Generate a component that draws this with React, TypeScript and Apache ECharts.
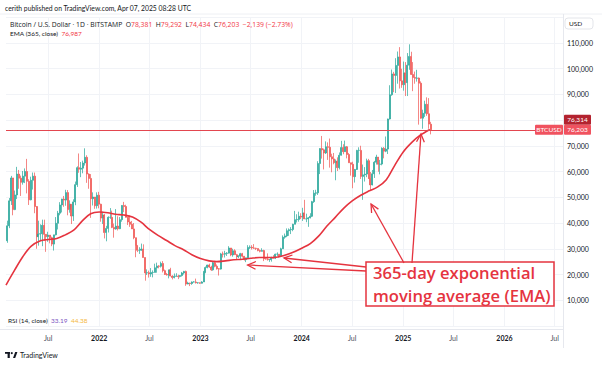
import React, { useEffect, useRef } from "react";
import * as echarts from "echarts";

// Weekly candles (week starting Monday), [open, close, low, high] in thousand USD
const FIRST_WEEK = "2021-02-01";
const ohlc2021: number[][] = [
  [33.1, 38.9, 32.3, 40.9], [38.9, 48.6, 38.0, 49.7], [48.6, 57.5, 47.0, 58.3], [57.5, 45.2, 43.0, 57.5],
  [45.2, 50.9, 45.0, 52.6], [50.9, 59.0, 49.3, 61.8], [59.0, 57.4, 53.3, 60.6], [57.4, 55.8, 50.5, 58.4],
  [55.8, 58.2, 54.9, 60.2], [58.2, 60.0, 55.5, 61.2], [60.0, 56.2, 51.5, 64.9], [56.2, 49.0, 47.0, 57.0],
  [49.0, 56.6, 48.8, 58.0], [56.6, 58.2, 53.0, 59.6], [58.2, 46.4, 43.8, 59.6], [46.4, 34.7, 30.0, 46.6],
  [34.7, 35.7, 31.2, 40.9], [35.7, 35.8, 33.4, 39.5], [35.8, 39.1, 31.0, 41.3], [39.1, 35.6, 33.0, 41.3],
  [35.6, 34.7, 28.8, 35.7], [34.7, 35.3, 32.7, 36.6], [35.3, 34.3, 32.1, 35.3], [34.3, 31.8, 31.0, 34.7],
  [31.8, 35.4, 29.3, 35.4], [35.4, 39.9, 35.2, 42.3], [39.9, 43.8, 37.5, 44.7], [43.8, 47.0, 43.0, 48.1],
  [47.0, 49.3, 44.1, 49.4], [49.3, 48.9, 46.3, 50.5], [48.9, 51.8, 46.7, 52.9], [51.8, 45.2, 43.0, 52.8],
  [45.2, 47.3, 44.0, 48.8], [47.3, 42.7, 39.6, 47.3], [42.7, 48.2, 40.8, 49.2], [48.2, 54.9, 46.9, 56.1],
  [54.9, 61.5, 54.0, 62.0], [61.5, 60.9, 59.5, 67.0], [60.9, 61.3, 57.8, 63.7], [61.3, 63.3, 59.3, 64.2],
  [63.3, 65.5, 62.3, 69.0], [65.5, 59.0, 55.6, 66.3], [59.0, 57.3, 53.3, 59.3], [57.3, 49.4, 42.0, 59.0],
  [49.4, 50.1, 46.8, 51.9], [50.1, 46.7, 45.5, 50.1], [46.7, 50.8, 45.6, 51.9], [50.8, 47.3, 45.7, 52.1],
];
const ohlc2022: number[][] = [
  [47.3, 41.9, 40.5, 47.5], [41.9, 43.1, 39.6, 44.4], [43.1, 36.3, 34.0, 43.5], [36.3, 37.9, 32.9, 38.9],
  [37.9, 42.2, 36.3, 42.6], [42.2, 42.2, 41.6, 45.8], [42.2, 38.3, 38.0, 44.8], [38.3, 37.7, 34.3, 39.8],
  [37.7, 38.8, 37.4, 45.4], [38.8, 37.8, 37.1, 42.6], [37.8, 41.3, 37.6, 42.3], [41.3, 46.8, 40.5, 46.9],
  [46.8, 46.4, 44.2, 48.2], [46.4, 42.2, 42.1, 47.1], [42.2, 40.4, 39.2, 42.4], [40.4, 39.5, 38.5, 42.9],
  [39.5, 37.7, 37.7, 40.8], [37.7, 34.3, 33.7, 40.0], [34.3, 31.3, 26.7, 34.3], [31.3, 29.4, 28.7, 31.3],
  [29.4, 29.4, 28.0, 30.6], [29.4, 29.9, 29.2, 32.0], [29.9, 26.6, 26.6, 31.7], [26.6, 20.6, 17.6, 26.6],
  [20.6, 20.7, 19.8, 22.0], [20.7, 20.2, 18.8, 21.5], [20.2, 20.8, 19.1, 22.5], [20.8, 20.8, 18.9, 21.6],
  [20.8, 22.6, 20.8, 24.2], [22.6, 23.3, 20.7, 24.6], [23.3, 23.2, 22.4, 23.6], [23.2, 24.3, 22.7, 25.0],
  [24.3, 21.5, 20.8, 25.2], [21.5, 20.0, 19.8, 21.9], [20.0, 19.8, 19.6, 20.6], [19.8, 21.8, 18.5, 21.8],
  [21.8, 19.4, 19.3, 22.6], [19.4, 18.8, 18.1, 19.7], [18.8, 19.3, 18.5, 20.4], [19.3, 19.4, 19.2, 20.5],
  [19.4, 19.2, 18.2, 19.9], [19.2, 19.6, 18.9, 19.7], [19.6, 20.6, 19.2, 21.0], [20.6, 21.2, 20.0, 21.4],
  [21.2, 16.3, 15.6, 21.5], [16.3, 16.7, 16.2, 17.2], [16.7, 16.5, 15.5, 16.8], [16.5, 17.1, 16.0, 17.3],
  [17.1, 17.1, 16.9, 17.4], [17.1, 16.8, 16.5, 18.4], [16.8, 16.8, 16.4, 17.0], [16.8, 16.6, 16.4, 16.9],
];
const ohlc2023: number[][] = [
  [16.6, 17.1, 16.5, 17.4], [17.1, 20.9, 17.1, 21.4], [20.9, 22.7, 20.5, 23.1], [22.7, 23.7, 22.4, 23.8],
  [23.7, 22.9, 22.6, 24.2], [22.9, 21.8, 21.4, 23.4], [21.8, 24.6, 21.5, 25.2], [24.6, 23.2, 22.8, 25.3],
  [23.2, 22.2, 21.9, 23.9], [22.2, 22.1, 19.6, 22.5], [22.1, 28.0, 21.9, 28.4], [28.0, 27.9, 26.6, 28.9],
  [27.9, 28.2, 26.6, 29.2], [28.2, 28.3, 27.2, 28.7], [28.3, 30.3, 28.2, 31.0], [30.3, 27.6, 27.1, 30.3],
  [27.6, 29.2, 26.9, 30.0], [29.2, 27.7, 27.7, 29.8], [27.7, 26.9, 25.8, 28.0], [26.9, 27.1, 26.4, 27.5],
  [27.1, 28.1, 25.9, 28.4], [28.1, 27.1, 26.6, 28.4], [27.1, 25.8, 25.4, 27.1], [25.8, 26.5, 24.8, 26.5],
  [26.5, 30.5, 26.3, 31.4], [30.5, 30.6, 29.9, 31.3], [30.6, 30.3, 29.7, 31.4], [30.3, 30.2, 30.0, 31.8],
  [30.2, 30.1, 29.5, 30.4], [30.1, 29.3, 29.0, 30.1], [29.3, 29.0, 28.6, 29.7], [29.0, 29.3, 28.9, 30.2],
  [29.3, 26.1, 25.2, 29.6], [26.1, 26.0, 25.8, 26.8], [26.0, 25.8, 25.4, 28.2], [25.8, 25.8, 24.9, 26.0],
  [25.8, 26.5, 25.0, 26.9], [26.5, 26.3, 26.2, 27.5], [26.3, 27.9, 26.0, 28.1], [27.9, 27.9, 27.2, 28.6],
  [27.9, 27.1, 26.6, 27.9], [27.1, 30.0, 26.9, 30.4], [30.0, 34.5, 29.9, 35.2], [34.5, 35.0, 33.9, 35.9],
  [35.0, 37.0, 34.5, 37.9], [37.0, 37.4, 35.0, 37.9], [37.4, 37.5, 35.7, 38.4], [37.5, 39.5, 36.8, 39.7],
  [39.5, 41.3, 39.5, 44.7], [41.3, 41.4, 40.2, 43.4], [41.4, 42.6, 40.5, 44.4], [42.6, 42.3, 41.5, 43.8],
];
const ohlc2024: number[][] = [
  [42.3, 43.9, 40.8, 45.9], [43.9, 41.6, 41.5, 49.0], [41.6, 41.6, 40.3, 43.6], [41.6, 42.0, 38.5, 42.3],
  [42.0, 42.6, 41.8, 43.8], [42.6, 48.3, 42.3, 48.6], [48.3, 51.6, 47.8, 52.8], [51.6, 51.7, 50.6, 52.9],
  [51.7, 63.1, 50.9, 64.0], [63.1, 68.9, 59.0, 69.0], [68.9, 68.4, 65.0, 73.8], [68.4, 67.2, 60.8, 68.9],
  [67.2, 69.6, 66.8, 71.7], [69.6, 69.4, 64.5, 71.3], [69.4, 65.7, 61.5, 72.8], [65.7, 64.9, 59.7, 66.9],
  [64.9, 63.4, 62.8, 67.2], [63.4, 64.0, 56.6, 64.7], [64.0, 61.5, 60.2, 65.5], [61.5, 66.3, 60.8, 67.4],
  [66.3, 69.3, 66.2, 71.9], [69.3, 67.7, 66.7, 70.6], [67.7, 69.6, 67.6, 72.0], [69.6, 66.6, 65.1, 69.9],
  [66.6, 63.4, 63.4, 67.2], [63.4, 62.8, 58.4, 63.4], [62.8, 58.0, 53.5, 63.8], [58.0, 60.8, 55.7, 61.0],
  [60.8, 68.2, 60.6, 68.4], [68.2, 68.2, 63.4, 69.4], [68.2, 58.1, 57.1, 70.0], [58.1, 58.7, 49.0, 62.7],
  [58.7, 59.0, 56.1, 61.7], [59.0, 64.2, 57.8, 65.0], [64.2, 57.3, 57.1, 64.9], [57.3, 54.8, 52.6, 59.8],
  [54.8, 59.1, 54.6, 60.6], [59.1, 63.6, 57.5, 64.1], [63.6, 65.6, 62.7, 66.5], [65.6, 62.8, 59.9, 65.6],
  [62.8, 62.9, 58.9, 64.5], [62.9, 69.0, 62.4, 69.4], [69.0, 67.9, 65.1, 69.5], [67.9, 68.7, 67.5, 73.6],
  [68.7, 80.4, 66.8, 80.5], [80.4, 89.8, 80.2, 93.5], [89.8, 97.9, 89.4, 99.6], [97.9, 97.3, 90.8, 98.7],
  [97.3, 101.2, 90.5, 104.0], [101.2, 104.5, 94.1, 106.6], [104.5, 95.2, 92.2, 108.3], [95.2, 93.7, 92.5, 99.9],
  [93.7, 98.3, 91.4, 102.7],
];
const ohlc2025: number[][] = [
  [98.3, 94.5, 89.3, 102.5], [94.5, 101.3, 89.3, 106.0], [101.3, 104.7, 99.5, 109.4], [104.7, 97.7, 97.5, 106.5],
  [97.7, 96.5, 91.2, 102.5], [96.5, 96.2, 94.1, 98.8], [96.2, 96.3, 94.9, 99.5], [96.3, 94.3, 78.2, 96.5],
  [94.3, 80.7, 80.5, 95.0], [80.7, 82.6, 76.6, 84.0], [82.6, 86.1, 81.2, 87.5], [86.1, 82.4, 81.6, 88.8],
  [82.4, 78.4, 76.6, 88.5], [78.381, 76.203, 74.434, 79.292],
];

// EMA (365), thousand USD
const emaDates = [
  "2021-01-30", "2021-03-01", "2021-04-01", "2021-05-01", "2021-06-01", "2021-07-01", "2021-08-01",
  "2021-09-01", "2021-10-01", "2021-11-01", "2021-12-01", "2022-01-01", "2022-02-01", "2022-03-01",
  "2022-04-01", "2022-05-01", "2022-06-01", "2022-07-01", "2022-08-01", "2022-09-01", "2022-10-01",
  "2022-11-01", "2022-12-01", "2023-01-01", "2023-02-01", "2023-03-01", "2023-04-01", "2023-05-01",
  "2023-06-01", "2023-07-01", "2023-08-01", "2023-09-01", "2023-10-01", "2023-11-01", "2023-12-01",
  "2024-01-01", "2024-02-01", "2024-03-01", "2024-04-01", "2024-05-01", "2024-06-01", "2024-07-01",
  "2024-08-01", "2024-09-01", "2024-10-01", "2024-11-01", "2024-12-01", "2025-01-01", "2025-02-01",
  "2025-03-01", "2025-04-07",
];
const emaValues = [
  15.9, 21.5, 27.0, 31.0, 33.0, 33.6, 34.0,
  35.4, 37.2, 40.8, 43.6, 44.3, 44.0, 43.4,
  43.1, 42.3, 40.3, 37.5, 35.2, 33.2, 31.2,
  29.6, 27.7, 26.2, 25.3, 25.0, 25.3, 25.7,
  25.9, 26.3, 26.6, 26.6, 26.7, 27.5, 28.6,
  30.2, 32.0, 34.8, 38.8, 42.2, 45.8, 48.6,
  50.8, 52.5, 54.0, 56.8, 62.3, 67.6, 71.3,
  73.9, 76.3,
];

const priceTicks = [10000, 20000, 30000, 40000, 50000, 60000, 70000, 80000, 90000, 100000, 110000];
const timeTicks = [
  "2021-07-01", "2022-01-01", "2022-07-01", "2023-01-01", "2023-07-01", "2024-01-01",
  "2024-07-01", "2025-01-01", "2025-07-01", "2026-01-01", "2026-07-01",
];
const X_START = "2021-01-30";
const X_END = "2026-07-31";
const lastClose = 76203;
const emaTagValue = 76314;
const arrowTargets: [string, number][] = [
  ["2023-06-20", 23700],
  ["2023-10-29", 26400],
  ["2024-09-07", 47400],
  ["2025-03-06", 74600],
];

const DAY = 86400000;
const ts = (s: string) => Date.parse(s + "T00:00:00Z");
const fmt = (v: number) => String(Math.round(v)).replace(/\B(?=(\d{3})+(?!\d))/g, ",");
const FONT = 'Lato, "Open Sans", sans-serif';
const OPEN = '"Open Sans", sans-serif';
const RED = "#e5343f";

export default function App() {
  const ref = useRef<HTMLDivElement>(null);

  useEffect(() => {
    if (!ref.current) return;
    const chart = echarts.init(ref.current, undefined, { renderer: "svg" });

    const weeks = [...ohlc2021, ...ohlc2022, ...ohlc2023, ...ohlc2024, ...ohlc2025];
    const t0 = ts(FIRST_WEEK);
    const candleData = weeks.map((r, i) => [
      t0 + (i * 7 + 3) * DAY,
      r[0] * 1000,
      r[1] * 1000,
      r[2] * 1000,
      r[3] * 1000,
    ]);
    const emaData = emaDates.map((d, i) => [ts(d), emaValues[i] * 1000]);
    const tickTs = timeTicks.map(ts);

    chart.setOption({
      animation: false,
      backgroundColor: "#ffffff",
      textStyle: { fontFamily: FONT },
      grid: { left: 6, right: 39, top: 17, bottom: 39, containLabel: false },
      xAxis: {
        type: "value",
        min: ts(X_START),
        max: ts(X_END),
        axisLine: { show: false },
        axisTick: { show: false, customValues: tickTs },
        splitLine: { show: true, lineStyle: { color: "#f1f3f7", width: 1 } },
        axisLabel: {
          customValues: tickTs,
          margin: 8,
          formatter: (v: number) => {
            const d = new Date(v);
            return d.getUTCMonth() === 0 ? "{y|" + d.getUTCFullYear() + "}" : "{m|Jul}";
          },
          rich: {
            y: { fontSize: 7, fontWeight: "bold", color: "#131722", fontFamily: FONT },
            m: { fontSize: 7, color: "#4a4e5a", fontFamily: FONT },
          },
        },
      },
      yAxis: {
        type: "value",
        position: "right",
        min: 0,
        max: 120000,
        interval: 10000,
        axisLine: { show: false },
        axisTick: { show: false },
        splitLine: { show: true, lineStyle: { color: "#f1f3f7", width: 1 } },
        axisLabel: {
          margin: 4,
          fontSize: 7,
          color: "#131722",
          fontFamily: FONT,
          formatter: (v: number) => (priceTicks.indexOf(v) >= 0 ? fmt(v) : ""),
        },
      },
      series: [
        {
          type: "candlestick",
          data: candleData,
          barWidth: 1.5,
          itemStyle: {
            color: "#26a69a",
            color0: "#ef5350",
            borderColor: "#26a69a",
            borderColor0: "#ef5350",
            borderWidth: 0.7,
          },
          markLine: {
            silent: true,
            symbol: ["none", "none"],
            label: { show: false },
            lineStyle: { color: "#e3464f", width: 1, type: "solid" },
            data: [{ yAxis: lastClose }],
          },
          z: 2,
        },
        {
          type: "line",
          data: emaData,
          smooth: 0.35,
          showSymbol: false,
          lineStyle: { color: RED, width: 1.6 },
          z: 3,
        },
      ],
    });

    const py = chart.convertToPixel({ yAxisIndex: 0 }, lastClose) as number;
    const tips = arrowTargets.map(([d, v]) => chart.convertToPixel({ gridIndex: 0 }, [ts(d), v]) as number[]);
    const starts = [
      [366, 271],
      [366, 267],
      [404, 263],
      [412, 263],
    ];
    const arrowEls: any[] = [];
    tips.forEach((tip, i) => {
      const s = starts[i];
      arrowEls.push({
        type: "line",
        shape: { x1: s[0], y1: s[1], x2: tip[0], y2: tip[1] },
        style: { stroke: RED, lineWidth: 1.3 },
        z: 100,
      });
      const ang = Math.atan2(s[1] - tip[1], s[0] - tip[0]);
      const L = 9;
      const a1 = ang + 0.45;
      const a2 = ang - 0.45;
      arrowEls.push({
        type: "polyline",
        shape: {
          points: [
            [tip[0] + L * Math.cos(a1), tip[1] + L * Math.sin(a1)],
            [tip[0], tip[1]],
            [tip[0] + L * Math.cos(a2), tip[1] + L * Math.sin(a2)],
          ],
        },
        style: { stroke: RED, lineWidth: 1.3, fill: "none" },
        z: 100,
      });
    });

    const tag = (x: number, yc: number, w: number, fill: string, text: string) => [
      { type: "rect", shape: { x, y: yc - 5, width: w, height: 10, r: 1 }, style: { fill }, z: 110 },
      {
        type: "text",
        x: x + w / 2,
        y: yc,
        style: { text, fill: "#ffffff", fontSize: 6.5, fontFamily: FONT, align: "center", verticalAlign: "middle" },
        z: 111,
      },
    ];

    chart.setOption({
      graphic: [
        { type: "line", shape: { x1: 0, y1: 14, x2: 602, y2: 14 }, style: { stroke: "#eef0f4", lineWidth: 1 } },
        { type: "line", shape: { x1: 563.5, y1: 14, x2: 563.5, y2: 348 }, style: { stroke: "#e6e8ee", lineWidth: 1 } },
        { type: "line", shape: { x1: 0, y1: 329.5, x2: 563, y2: 329.5 }, style: { stroke: "#e6e8ee", lineWidth: 1 } },
        {
          type: "text",
          x: 5,
          y: 8,
          style: {
            text: "cerith published on TradingView.com, Apr 07, 2025 08:28 UTC",
            fill: "#131722",
            fontSize: 6.8,
            fontFamily: FONT,
            verticalAlign: "middle",
          },
        },
        {
          type: "text",
          x: 10,
          y: 24,
          style: {
            text:
              "Bitcoin / U.S. Dollar · 1D · BITSTAMP  O{r|78,381}  H{r|79,292}  L{r|74,434}  C{r|76,203}  {r|−2,139 (−2.73%)}",
            fill: "#131722",
            fontSize: 6.8,
            fontFamily: OPEN,
            verticalAlign: "middle",
            rich: { r: { fill: "#f23645", fontSize: 6.8, fontFamily: OPEN } },
          },
        },
        {
          type: "text",
          x: 10,
          y: 33,
          style: {
            text: "EMA (365, close)  {r|76,987}",
            fill: "#131722",
            fontSize: 6.5,
            fontFamily: FONT,
            verticalAlign: "middle",
            rich: { r: { fill: "#f23645", fontSize: 6.5, fontFamily: FONT } },
          },
        },
        { type: "rect", shape: { x: 565, y: 18, width: 28, height: 11, r: 3 }, style: { fill: "#fff", stroke: "#e3e5ea", lineWidth: 1 } },
        {
          type: "text",
          x: 569,
          y: 23.5,
          style: { text: "USD", fill: "#131722", fontSize: 6.5, fontFamily: FONT, verticalAlign: "middle" },
        },
        {
          type: "text",
          x: 8,
          y: 320,
          style: {
            text: "RSI (14, close)  {p|33.19}  {o|44.38}",
            fill: "#131722",
            fontSize: 6.5,
            fontFamily: FONT,
            verticalAlign: "middle",
            rich: {
              p: { fill: "#7e57c2", fontSize: 6.5, fontFamily: FONT },
              o: { fill: "#f5b841", fontSize: 6.5, fontFamily: FONT },
            },
          },
        },
        // TradingView logo mark
        { type: "rect", shape: { x: 5, y: 352, width: 5, height: 1.8 }, style: { fill: "#131722" } },
        { type: "rect", shape: { x: 7.6, y: 352, width: 2.2, height: 6 }, style: { fill: "#131722" } },
        { type: "circle", shape: { cx: 11.8, cy: 353.1, r: 1.1 }, style: { fill: "#131722" } },
        {
          type: "polygon",
          shape: { points: [[13, 358], [15.2, 352], [17.4, 352], [15.2, 358]] },
          style: { fill: "#131722" },
        },
        {
          type: "text",
          x: 20,
          y: 355,
          style: { text: "TradingView", fill: "#131722", fontSize: 7, fontFamily: FONT, verticalAlign: "middle" },
        },
        ...tag(564, py - 10, 27, "#b3232f", fmt(emaTagValue)),
        ...tag(564, py, 27, "#f0525f", fmt(lastClose)),
        ...tag(535, py, 28, "#f0525f", "BTCUSD"),
        {
          type: "rect",
          shape: { x: 366, y: 262, width: 188, height: 44 },
          style: { fill: "#ffffff", stroke: RED, lineWidth: 1.5 },
          z: 90,
        },
        {
          type: "text",
          x: 373,
          y: 284,
          style: {
            text: "365-day exponential\nmoving average (EMA)",
            fill: RED,
            fontSize: 16.6,
            lineHeight: 22.8,
            fontWeight: 600,
            fontFamily: OPEN,
            verticalAlign: "middle",
          },
          z: 91,
        },
        ...arrowEls,
      ],
    });

    return () => chart.dispose();
  }, []);

  return (
    <div
      ref={ref}
      style={{ position: "fixed", left: 0, top: 0, width: 602, height: 365, background: "#fff" }}
    />
  );
}
